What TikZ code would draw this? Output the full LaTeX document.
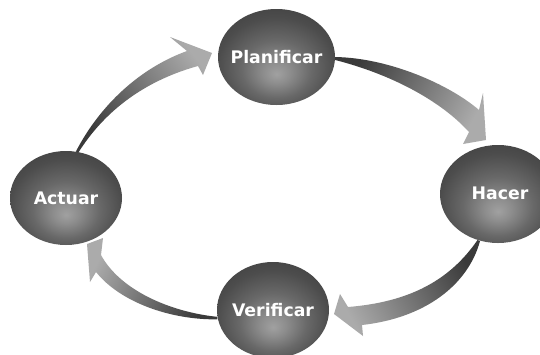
\documentclass[tikz,border=0pt]{standalone}
\usepackage{fontspec}
\setmainfont{DejaVu Sans}
\usetikzlibrary{shapes.geometric,calc}
\definecolor{arrdark}{HTML}{3A3A3A}
\definecolor{arrmid}{HTML}{929292}
\definecolor{arrlight}{HTML}{ABABAB}
\pgfdeclareradialshading{sphere}{\pgfpoint{0bp}{-9bp}}{rgb(0bp)=(0.63,0.63,0.63); rgb(6bp)=(0.55,0.55,0.55); rgb(15bp)=(0.41,0.41,0.41); rgb(25bp)=(0.3,0.3,0.3); rgb(37bp)=(0.23,0.23,0.23); rgb(50bp)=(0.18,0.18,0.18)}
\begin{document}
\begin{tikzpicture}[x=1pt,y=-1pt,
  ball/.style={ellipse, inner sep=0pt, shade, shading=sphere},
  lbl/.style={text=white, font=\bfseries\fontsize{17.3}{19}\selectfont},
  arr/.style={top color=arrdark, middle color=arrmid, bottom color=arrlight}]
\useasboundingbox (0,0) rectangle (540,354);
\fill[white] (0,0) rectangle (540,354);
\clip (0,0) rectangle (540,354);
% nodes
\node[ball, minimum width=117pt, minimum height=96pt] (P) at (276.5,57) {};
\node[ball, minimum width=116pt, minimum height=98pt] (H) at (498,194) {};
\node[ball, minimum width=112pt, minimum height=94pt] (A) at (66,198) {};
\node[ball, minimum width=112pt, minimum height=96pt] (V) at (273,310) {};
\node[lbl] (Pt) at (P) {Planificar};
\node[lbl] (Ht) at ($(H)+(2,-1)$) {Hacer};
\node[lbl] (At) at (A) {Actuar};
\node[lbl] (Vt) at (V) {Verificar};
% arrows
\shade[arr, shading angle=61] (P.east) .. controls (390,58) and (450,85) .. (479,110)
  -- (483,93) -- (486,140) -- (463,144) -- (469,132)
  .. controls (440,100) and (390,74) .. ($(P.east)+(0,3)$) -- cycle;
\shade[arr, shading angle=-61] (H.246) .. controls (450,280) and (410,302) .. (348,307)
  -- (340,294) -- (334,314) -- (363,336) -- (362,325)
  .. controls (425,318) and (468,285) .. ($(H.246)+(2.5,1)$) -- cycle;
\shade[arr, shading angle=-118] (V.187) .. controls (170,312) and (120,290) .. (101,255)
  -- (103,238) -- (87,244) -- (90,282) -- (96,272)
  .. controls (120,302) and (170,320) .. ($(V.187)+(0,2.5)$) -- cycle;
\shade[arr, shading angle=127] (A.78) .. controls (100,105) and (140,68) .. (187,51)
  -- (170,37) -- (212,53) -- (203,75) -- (198,66)
  .. controls (140,82) and (102,115) .. ($(A.78)+(2.5,1)$) -- cycle;
\end{tikzpicture}
\end{document}
